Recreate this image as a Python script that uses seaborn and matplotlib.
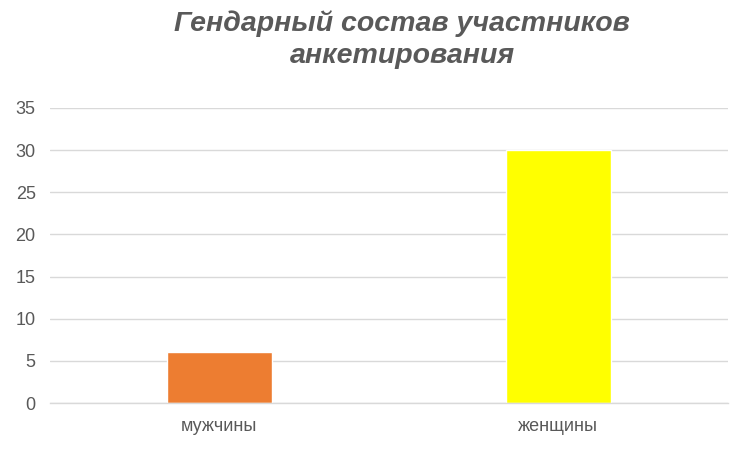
import pandas as pd
import seaborn as sns
import matplotlib.pyplot as plt

# data
categories = ['мужчины', 'женщины']
counts = [6, 30]
bar_colors = ['#ED7D31', '#FFFF00']
y_ticks = [0, 5, 10, 15, 20, 25, 30, 35]
title = 'Гендарный состав участников\nанкетирования'


def main():
    sns.set_theme(style='white')
    plt.rcParams['font.family'] = ['Liberation Sans', 'DejaVu Sans']

    data = pd.DataFrame({'Пол': categories, 'Количество': counts})

    fig = plt.figure(figsize=(7.52, 4.5), dpi=100)
    ax = fig.add_axes([0.066, 0.1044, 0.902, 0.6556])
    sns.barplot(data=data, x='Пол', y='Количество', hue='Пол',
                palette=bar_colors, width=0.31, legend=False,
                saturation=1, ax=ax)

    ax.set_ylim(0, 35)
    ax.set_yticks(y_ticks)
    ax.yaxis.grid(True, color='#D9D9D9', linewidth=1)
    ax.set_axisbelow(True)
    for side in ['top', 'right', 'left']:
        ax.spines[side].set_visible(False)
    ax.spines['bottom'].set_color('#D9D9D9')
    ax.spines['bottom'].set_linewidth(1)
    ax.tick_params(axis='y', length=0, pad=10, labelsize=13,
                   labelcolor='#595959')
    ax.tick_params(axis='x', length=0, pad=11, labelsize=13,
                   labelcolor='#595959')
    ax.set_xlabel('')
    ax.set_ylabel('')

    fig.text(0.535, 0.978, title, ha='center', va='top', fontsize=20.5,
             fontweight='bold', fontstyle='italic', color='#595959',
             linespacing=1.32)

    fig.savefig('out.png', dpi=100)


if __name__ == '__main__':
    main()
